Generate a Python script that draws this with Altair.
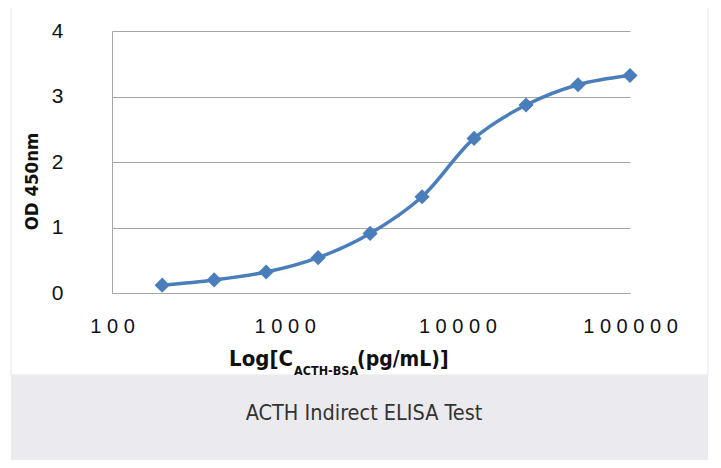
import altair as alt
import pandas as pd

# data
conc = [195.3, 390.6, 781.25, 1562.5, 3125, 6250, 12500, 25000, 50000, 100000]
od = [0.12, 0.20, 0.32, 0.54, 0.91, 1.47, 2.36, 2.87, 3.18, 3.32]
x_ticks = [100, 1000, 10000, 100000]
y_ticks = [0, 1, 2, 3, 4]
y_title = "OD 450nm"
x_title_parts = ["Log[C", "ACTH-BSA", "(pg/mL)]"]
caption = "ACTH  Indirect ELISA Test"

df = pd.DataFrame({"conc": conc, "od": od})

BLUE = "#4a7ebb"
GRID = "#a6a6a6"
COND = "DejaVu Sans Condensed, sans-serif"

xenc = alt.X(
    "conc:Q",
    scale=alt.Scale(type="log", domain=[100, 100000], nice=False, zero=False),
    axis=alt.Axis(
        values=x_ticks,
        grid=False,
        ticks=False,
        domain=True,
        domainColor=GRID,
        labelExpr="join(split(format(datum.value, 'd'), ''), ' ')",
        labelFont="Liberation Sans",
        labelFontSize=20,
        labelColor="#111111",
        labelPadding=23,
        labelFlush=False,
        labelOverlap=False,
        title=None,
    ),
)
yenc = alt.Y(
    "od:Q",
    scale=alt.Scale(domain=[0, 4], nice=False),
    axis=alt.Axis(
        values=y_ticks,
        format="d",
        grid=True,
        gridColor=GRID,
        ticks=False,
        domain=True,
        domainColor=GRID,
        labelFont="Liberation Sans",
        labelFontSize=21,
        labelColor="#111111",
        labelPadding=49,
        title=y_title,
        titleFont=COND,
        titleFontWeight="bold",
        titleFontSize=18.5,
        titleColor="#111111",
        titleAngle=270,
        titleX=-81,
        titleY=150,
        titleAlign="center",
        titleBaseline="middle",
    ),
)

one = alt.Data(values=[{}])

frame = alt.Chart(one).mark_rect(fillOpacity=0, stroke="#e6e6e6", strokeWidth=1).encode(
    x=alt.value(-101), x2=alt.value(596), y=alt.value(-24), y2=alt.value(344)
)
band = alt.Chart(one).mark_rect(fill="#ebeaef").encode(
    x=alt.value(-101), x2=alt.value(596), y=alt.value(344), y2=alt.value(440)
)

line = alt.Chart(df).mark_line(interpolate="catmull-rom", color=BLUE, strokeWidth=3.5).encode(
    x=xenc, y=yenc
)
pts = alt.Chart(df).mark_point(shape="diamond", filled=True, size=230, color=BLUE, opacity=1).encode(
    x="conc:Q", y="od:Q"
)

t1 = alt.Chart(one).mark_text(
    text=x_title_parts[0], font=COND, fontWeight="bold", fontSize=22, align="right",
    baseline="alphabetic", color="#111111"
).encode(x=alt.value(181), y=alt.value(335))
t2 = alt.Chart(one).mark_text(
    text=x_title_parts[1], font=COND, fontWeight="bold", fontSize=12.5, align="left",
    baseline="alphabetic", color="#111111"
).encode(x=alt.value(182), y=alt.value(344))
t3 = alt.Chart(one).mark_text(
    text=x_title_parts[2], font=COND, fontWeight="bold", fontSize=21, align="left",
    baseline="alphabetic", color="#111111"
).encode(x=alt.value(245), y=alt.value(335))

cap = alt.Chart(one).mark_text(
    text=caption, font=COND, fontSize=21.5, align="center", baseline="middle", color="#333333"
).encode(x=alt.value(252), y=alt.value(383))

chart = (
    alt.layer(frame, band, line, pts, t1, t2, t3, cap)
    .properties(
        width=518,
        height=262,
        autosize=alt.AutoSizeParams(type="none"),
        padding={"left": 104, "top": 23, "right": 83, "bottom": 167},
        background="white",
    )
    .configure_view(strokeWidth=0)
)

chart.save("out.html", embed_options={"renderer": "svg", "actions": False})
